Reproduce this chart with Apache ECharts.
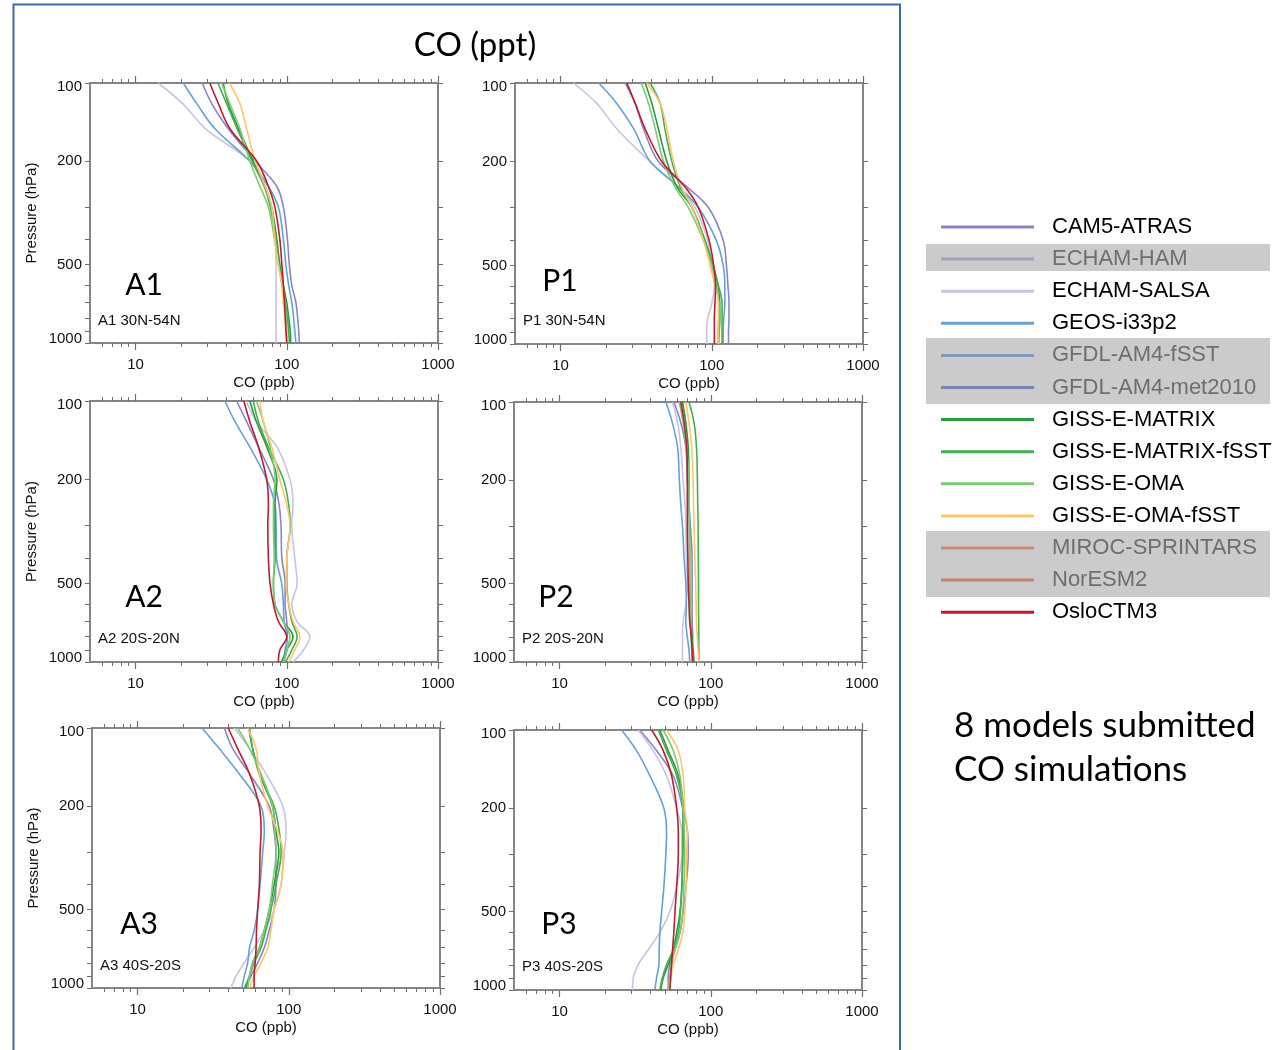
<!DOCTYPE html>
<html>
<head>
<meta charset="utf-8">
<script src="https://cdn.jsdelivr.net/npm/echarts@6/dist/echarts.min.js"></script>
<style>
  html, body { margin: 0; padding: 0; background: #ffffff; }
  #chart { width: 1281px; height: 1050px; }
</style>
</head>
<body>
<div id="chart"></div>
<script>
// Pressure levels (hPa) of every profile
const levels = [100, 120, 150, 200, 250, 300, 400, 500, 600, 700, 800, 900, 1000];

// Tick values
const xMajorTicks = [10, 100, 1000];
const xMinorTicks = [6, 7, 8, 9, 20, 30, 40, 50, 60, 70, 80, 90, 200, 300, 400, 500, 600, 700, 800, 900];
const yTicks = [100, 200, 300, 400, 500, 600, 700, 800, 900, 1000];
const yLabels = [100, 200, 500, 1000];

// Models in the legend; the ones in grey boxes submitted no CO
const models = ['CAM5-ATRAS', 'ECHAM-HAM', 'ECHAM-SALSA', 'GEOS-i33p2', 'GFDL-AM4-fSST', 'GFDL-AM4-met2010',
  'GISS-E-MATRIX', 'GISS-E-MATRIX-fSST', 'GISS-E-OMA', 'GISS-E-OMA-fSST', 'MIROC-SPRINTARS', 'NorESM2', 'OsloCTM3'];
const missingModels = ['ECHAM-HAM', 'GFDL-AM4-fSST', 'GFDL-AM4-met2010', 'MIROC-SPRINTARS', 'NorESM2'];

// CO (ppb) profiles, one value per pressure level
// A1 30N-54N
const A1_cam5 = [27.6, 31.9, 41, 62, 86, 95, 101, 104, 108, 115, 118, 120, 121];
const A1_salsa = [14.1, 20.5, 29, 57, 72, 78, 84, 85, 85, 85, 85, 85, 85];
const A1_geos = [20.7, 25.4, 33.5, 57, 75.6, 88, 95, 98.6, 103, 108, 111, 113, 115];
const A1_matrix = [38, 41, 48, 60, 72, 79.5, 86, 90, 95, 100, 103, 105.5, 106];
const A1_matrixF = [35, 40, 47, 59, 71, 78, 85, 89, 94, 98, 101, 103, 104];
const A1_oma = [37, 42, 49, 57, 66.5, 75.6, 83, 88, 93, 97, 99, 100, 100];
const A1_omaF = [41.7, 49, 54.3, 62, 72, 79.5, 83.5, 88, 93, 95, 97.7, 99, 100];
const A1_oslo = [31, 35.3, 42.1, 63.4, 75.6, 83.5, 90, 92.8, 95, 96.6, 97.7, 98.8, 100];

// P1 30N-54N
const P1_cam5 = [26.8, 31.2, 35.4, 44.4, 68.5, 95, 119, 125, 128, 130, 130, 129, 129];
const P1_salsa = [12.2, 17.4, 23.6, 39, 60, 77.5, 94, 100, 104, 100, 94, 92.5, 92.5];
const P1_geos = [17.9, 23.6, 30.5, 39.2, 60, 81.5, 107, 119, 122, 122, 120, 119, 119];
const P1_matrix = [36.3, 40.2, 44.4, 50.5, 58.8, 74, 90, 102, 110, 113, 113, 112, 111];
const P1_matrixF = [39.2, 45.6, 49, 54.5, 62, 74, 90, 102, 111, 117, 117, 117, 117];
const P1_oma = [34.2, 38.2, 42.3, 48, 57, 70, 88, 100, 108, 111, 111, 110, 110];
const P1_omaF = [37.2, 45.6, 50.6, 55.8, 63, 74, 88, 97.5, 105, 111, 111, 111, 111];
const P1_oslo = [27.5, 31.2, 36.3, 46.7, 66.5, 81.5, 96, 103, 106, 105, 104, 104, 104];

// A2 20S-20N
const A2_cam5 = [46.6, 54.3, 65, 81.6, 89, 91.6, 92.8, 97.5, 97.5, 100, 101, 97.5, 95];
const A2_salsa = [54, 63, 86, 105, 110, 108, 113, 117, 108, 117, 142, 129, 110];
const A2_geos = [39, 45.5, 57, 73.7, 83.6, 85, 85.6, 92.5, 95, 96, 100, 100, 95];
const A2_matrix = [57, 63, 73.7, 86, 83.6, 83.6, 83.6, 81.6, 83.6, 95, 110, 100, 92];
const A2_matrixF = [60, 65, 75.6, 95, 103, 105.5, 100, 100, 103, 108, 117, 108, 98];
const A2_oma = [63, 70, 77.5, 83.6, 81.6, 81.6, 82.6, 81.6, 83.6, 95, 105, 100, 95];
const A2_omaF = [66.5, 70, 79.5, 90, 100, 105, 100, 99, 103, 110, 122, 113, 103];
const A2_oslo = [52, 57, 65, 73.7, 75.6, 74.9, 75.6, 77.5, 81.6, 88, 100, 90, 88];

// P2 20S-20N
const P2_cam5 = [57, 63.4, 68.4, 70, 71.8, 73.3, 75.3, 75.3, 75.3, 75.3, 76, 75.3, 75.3];
const P2_salsa = [55.7, 60.4, 63.4, 65.6, 67.7, 68.4, 69, 70, 68.4, 65.6, 65, 65, 65];
const P2_geos = [50.5, 55.7, 60.4, 62, 63.4, 65, 66.7, 68.4, 69, 68.4, 70, 71.8, 72.6];
const P2_matrix = [65, 68.4, 71, 71.8, 72, 72.3, 72.6, 72.6, 73, 73.5, 75, 76.5, 77.5];
const P2_matrixF = [71.8, 77.5, 80.5, 81.6, 82, 82.5, 82.7, 83, 83, 83.2, 83.3, 83.4, 83.5];
const P2_oma = [62, 65.6, 69, 71.8, 72, 72.3, 72.5, 72.8, 73, 73.5, 74, 74.8, 75.3];
const P2_omaF = [68.4, 71.8, 74.8, 76.4, 77, 77.5, 78.5, 79.5, 80, 80.5, 81.5, 82.5, 83.5];
const P2_oslo = [63.4, 66.7, 69.4, 70, 70, 70, 70.6, 71, 71.8, 72.6, 74.4, 75.3, 76];

// A3 40S-20S
const A3_cam5 = [37.5, 42.6, 55, 74.3, 80, 82.3, 82.3, 80, 74.3, 68.9, 62.3, 56.3, 52];
const A3_salsa = [43.7, 55, 70.7, 91.3, 96, 93.6, 89, 80, 68.9, 59, 50.8, 44.8, 41.5];
const A3_geos = [26.7, 34.7, 47, 65.6, 68.9, 67.3, 64.6, 62.3, 59.1, 55, 53.5, 50.8, 49];
const A3_matrix = [55, 57.7, 63.9, 78, 82.3, 86, 80, 74.3, 68.9, 63.9, 57.7, 55, 52];
const A3_matrixF = [54.4, 57.7, 63.9, 80, 86.6, 89, 82.3, 76.3, 70.7, 65.6, 59, 55, 50.8];
const A3_oma = [45.9, 55, 65.6, 78, 81, 82.3, 78, 74.3, 68.9, 63.9, 57.7, 55, 53.5];
const A3_omaF = [53.5, 60.8, 63.9, 72.6, 84.5, 91.3, 89, 80, 76.3, 72.6, 65.6, 59, 55];
const A3_oslo = [39.8, 45.9, 55, 63.9, 65.6, 64.6, 63.9, 62.3, 61.2, 60.8, 60, 59, 59];

// P3 40S-20S
const P3_cam5 = [33.9, 43.8, 56.5, 65.3, 70.4, 71, 68.6, 65.7, 62.6, 58, 53.6, 52.3, 52.3];
const P3_salsa = [33.1, 41.6, 51, 59.5, 64.4, 64.4, 59.5, 53.6, 46.1, 38.6, 33.1, 30.7, 30.4];
const P3_geos = [25.7, 32.3, 39.6, 49, 51, 50.5, 49, 47.3, 46.1, 45.6, 45.4, 43.8, 42.7];
const P3_matrix = [46.1, 52.3, 61, 65.7, 65.7, 65.3, 64.4, 62.6, 59.5, 56.5, 52.3, 48.5, 46.7];
const P3_matrixF = [45, 51, 59.5, 65.3, 65.5, 65.3, 64.4, 63, 61, 56.5, 51, 47.8, 46.1];
const P3_oma = [48.5, 56.5, 62.6, 65.7, 67, 67.4, 66.4, 65.3, 62.6, 58, 55, 53.2, 52.3];
const P3_omaF = [51, 61, 65.7, 67.4, 70, 69.3, 68.6, 67.4, 65.3, 61, 56.5, 54.3, 53.2];
const P3_oslo = [40.7, 48.5, 55.1, 59.5, 61, 61, 59.5, 58, 57, 55.9, 55, 54.3, 53.6];

// Panels: letter, region text, and the profiles per model
const panelNames = ['A1', 'P1', 'A2', 'P2', 'A3', 'P3'];
const panelRegions = ['A1 30N-54N', 'P1 30N-54N', 'A2 20S-20N', 'P2 20S-20N', 'A3 40S-20S', 'P3 40S-20S'];
const panelProfiles = [
  { 'CAM5-ATRAS': A1_cam5, 'ECHAM-SALSA': A1_salsa, 'GEOS-i33p2': A1_geos, 'GISS-E-MATRIX': A1_matrix, 'GISS-E-MATRIX-fSST': A1_matrixF, 'GISS-E-OMA': A1_oma, 'GISS-E-OMA-fSST': A1_omaF, 'OsloCTM3': A1_oslo },
  { 'CAM5-ATRAS': P1_cam5, 'ECHAM-SALSA': P1_salsa, 'GEOS-i33p2': P1_geos, 'GISS-E-MATRIX': P1_matrix, 'GISS-E-MATRIX-fSST': P1_matrixF, 'GISS-E-OMA': P1_oma, 'GISS-E-OMA-fSST': P1_omaF, 'OsloCTM3': P1_oslo },
  { 'CAM5-ATRAS': A2_cam5, 'ECHAM-SALSA': A2_salsa, 'GEOS-i33p2': A2_geos, 'GISS-E-MATRIX': A2_matrix, 'GISS-E-MATRIX-fSST': A2_matrixF, 'GISS-E-OMA': A2_oma, 'GISS-E-OMA-fSST': A2_omaF, 'OsloCTM3': A2_oslo },
  { 'CAM5-ATRAS': P2_cam5, 'ECHAM-SALSA': P2_salsa, 'GEOS-i33p2': P2_geos, 'GISS-E-MATRIX': P2_matrix, 'GISS-E-MATRIX-fSST': P2_matrixF, 'GISS-E-OMA': P2_oma, 'GISS-E-OMA-fSST': P2_omaF, 'OsloCTM3': P2_oslo },
  { 'CAM5-ATRAS': A3_cam5, 'ECHAM-SALSA': A3_salsa, 'GEOS-i33p2': A3_geos, 'GISS-E-MATRIX': A3_matrix, 'GISS-E-MATRIX-fSST': A3_matrixF, 'GISS-E-OMA': A3_oma, 'GISS-E-OMA-fSST': A3_omaF, 'OsloCTM3': A3_oslo },
  { 'CAM5-ATRAS': P3_cam5, 'ECHAM-SALSA': P3_salsa, 'GEOS-i33p2': P3_geos, 'GISS-E-MATRIX': P3_matrix, 'GISS-E-MATRIX-fSST': P3_matrixF, 'GISS-E-OMA': P3_oma, 'GISS-E-OMA-fSST': P3_omaF, 'OsloCTM3': P3_oslo }
];

// ---- styling and layout ----
const modelColors = {
  'CAM5-ATRAS': '#8b84c4', 'ECHAM-HAM': '#a3a2bb', 'ECHAM-SALSA': '#c6c4e2', 'GEOS-i33p2': '#64a2d6',
  'GFDL-AM4-fSST': '#8499bb', 'GFDL-AM4-met2010': '#7a86b0', 'GISS-E-MATRIX': '#2a9b3c',
  'GISS-E-MATRIX-fSST': '#47ad52', 'GISS-E-OMA': '#7dcb73', 'GISS-E-OMA-fSST': '#fcc66b',
  'MIROC-SPRINTARS': '#ca8e70', 'NorESM2': '#c58474', 'OsloCTM3': '#c01b2f'
};
const gridBoxes = [
  { left: 90, top: 83, width: 348, height: 260 },
  { left: 515, top: 83, width: 348, height: 261 },
  { left: 90, top: 401, width: 348, height: 261 },
  { left: 514, top: 402, width: 348, height: 260 },
  { left: 92, top: 728, width: 348, height: 260 },
  { left: 514, top: 730, width: 348, height: 260 }
];
const letterPos = [[144, 285], [560, 281], [144, 597], [556, 597], [139, 924], [559, 924]];
const regionPos = [[98, 321], [523, 321], [98, 639], [522, 639], [100, 966], [522, 967]];

const AXIS_COLOR = '#858585';
const TICK_COLOR = '#6e6e6e';
const SANS = '"Liberation Sans", Arial, sans-serif';
const HUMAN = 'Lato, "Open Sans", sans-serif';
const intLabel = v => String(Math.round(v));
// pressure labels: the end labels are nudged inside the frame
const pressureLabel = v => {
  const r = Math.round(v);
  if (r === 100) return '{first|' + r + '}';
  if (r === 1000) return '{last|' + r + '}';
  return String(r);
};
const pressureRich = {
  first: { padding: [8, 0, 0, 0], fontFamily: SANS, fontSize: 15, color: '#111' },
  last: { padding: [0, 0, 9, 0], fontFamily: SANS, fontSize: 15, color: '#111' }
};

const grids = [], xAxes = [], yAxes = [], series = [], graphics = [];

gridBoxes.forEach((b, i) => {
  grids.push(Object.assign({ containLabel: false, outerBoundsMode: 'none' }, b));
  const xBase = { type: 'log', logBase: 10, gridIndex: i, min: 5, max: 1000, splitLine: { show: false }, silent: true };
  const lineOn = { show: true, onZero: false, lineStyle: { color: AXIS_COLOR, width: 2 } };
  // bottom axis: spine, major ticks and labels
  xAxes.push(Object.assign({}, xBase, {
    position: 'bottom', axisLine: lineOn,
    axisTick: { show: true, inside: false, length: 7, customValues: xMajorTicks, lineStyle: { color: TICK_COLOR, width: 1.2 } },
    axisLabel: { show: true, customValues: xMajorTicks, formatter: intLabel, margin: 14, color: '#111', fontFamily: SANS, fontSize: 15 },
    name: 'CO (ppb)', nameLocation: 'middle', nameGap: 32,
    nameTextStyle: { color: '#111', fontFamily: SANS, fontSize: 15 }
  }));
  // bottom minor ticks
  xAxes.push(Object.assign({}, xBase, {
    position: 'bottom', axisLine: { show: false, onZero: false },
    axisTick: { show: true, inside: false, length: 4, customValues: xMinorTicks, lineStyle: { color: TICK_COLOR, width: 1 } },
    axisLabel: { show: false }
  }));
  // top spine with major ticks
  xAxes.push(Object.assign({}, xBase, {
    position: 'top', axisLine: lineOn,
    axisTick: { show: true, inside: false, length: 7, customValues: xMajorTicks, lineStyle: { color: TICK_COLOR, width: 1.2 } },
    axisLabel: { show: false }
  }));
  // top minor ticks
  xAxes.push(Object.assign({}, xBase, {
    position: 'top', axisLine: { show: false, onZero: false },
    axisTick: { show: true, inside: false, length: 4, customValues: xMinorTicks, lineStyle: { color: TICK_COLOR, width: 1 } },
    axisLabel: { show: false }
  }));

  const yBase = { type: 'log', logBase: 10, gridIndex: i, min: 100, max: 1000, inverse: true, splitLine: { show: false }, silent: true };
  const leftAxis = Object.assign({}, yBase, {
    position: 'left', axisLine: lineOn,
    axisTick: { show: true, inside: false, length: 5, customValues: yTicks, lineStyle: { color: TICK_COLOR, width: 1 } },
    axisLabel: {
      show: true, customValues: yLabels, formatter: pressureLabel, rich: pressureRich,
      margin: 8, color: '#111', fontFamily: SANS, fontSize: 15
    }
  });
  if (i % 2 === 0) {
    Object.assign(leftAxis, {
      name: 'Pressure (hPa)', nameLocation: 'middle', nameGap: 51, nameRotate: 90,
      nameTextStyle: { color: '#111', fontFamily: SANS, fontSize: 15 }
    });
  }
  yAxes.push(leftAxis);
  yAxes.push(Object.assign({}, yBase, {
    position: 'right', axisLine: lineOn,
    axisTick: { show: true, inside: false, length: 5, customValues: yTicks, lineStyle: { color: TICK_COLOR, width: 1 } },
    axisLabel: { show: false }
  }));

  // profiles of this panel
  const profiles = panelProfiles[i];
  models.forEach(name => {
    const vals = profiles[name];
    if (!vals) return;
    series.push({
      type: 'line', name: name, xAxisIndex: 4 * i, yAxisIndex: 2 * i,
      data: levels.map((p, k) => [vals[k], p]),
      smooth: 0.35, symbol: 'none', showSymbol: false, clip: true,
      lineStyle: { color: modelColors[name], width: 1.6 },
      itemStyle: { color: modelColors[name] },
      emphasis: { disabled: true }, animation: false
    });
  });

  // panel letter and region text
  graphics.push({
    type: 'text', x: letterPos[i][0], y: letterPos[i][1], silent: true,
    style: { text: panelNames[i], font: '30px ' + HUMAN, fill: '#000', align: 'center', verticalAlign: 'middle' }
  });
  graphics.push({
    type: 'text', x: regionPos[i][0], y: regionPos[i][1], silent: true,
    style: { text: panelRegions[i], font: '15px ' + SANS, fill: '#111', align: 'left', verticalAlign: 'middle' }
  });
});

// legend entries for models without CO output
missingModels.forEach(name => {
  series.push({
    type: 'line', name: name, xAxisIndex: 0, yAxisIndex: 0, data: [],
    symbol: 'none', lineStyle: { color: modelColors[name], width: 1.6 }, itemStyle: { color: modelColors[name] }
  });
});

// outer frame of the panel block
graphics.push({
  type: 'rect', silent: true, z: 0,
  shape: { x: 13.5, y: 4.5, width: 886.5, height: 1100 },
  style: { fill: 'none', stroke: '#3f6aa2', lineWidth: 2 }
});
// grey boxes behind legend rows of missing models
[[244, 27], [338, 66], [531, 66]].forEach(([y, h]) => {
  graphics.push({
    type: 'rect', silent: true, z: -1,
    shape: { x: 926, y: y, width: 344, height: h },
    style: { fill: '#cbcbcb' }
  });
});
// heading and note
graphics.push({
  type: 'text', x: 475, y: 45, silent: true,
  style: { text: 'CO (ppt)', font: '33px ' + HUMAN, fill: '#000', align: 'center', verticalAlign: 'middle' }
});
graphics.push({
  type: 'text', x: 954, y: 726, silent: true,
  style: { text: '8 models submitted', font: '35px ' + HUMAN, fill: '#000', align: 'left', verticalAlign: 'middle' }
});
graphics.push({
  type: 'text', x: 954, y: 770, silent: true,
  style: { text: 'CO simulations', font: '35px ' + HUMAN, fill: '#000', align: 'left', verticalAlign: 'middle' }
});

const chart = echarts.init(document.getElementById('chart'), null, { renderer: 'canvas' });
chart.setOption({
  backgroundColor: '#ffffff',
  animation: false,
  grid: grids,
  xAxis: xAxes,
  yAxis: yAxes,
  legend: {
    orient: 'vertical', left: 941, top: 216, padding: 0,
    itemWidth: 93, itemHeight: 22, itemGap: 10.1,
    icon: 'path://M0,0H93V3H0Z',
    selectedMode: false,
    itemStyle: { borderWidth: 0 },
    textStyle: { fontFamily: SANS, fontSize: 22, color: '#000', lineHeight: 22, padding: [0, 0, 0, 13] },
    data: models.map(name => missingModels.indexOf(name) >= 0
      ? { name: name, textStyle: { color: '#6e6e6e' } }
      : { name: name })
  },
  graphic: { elements: graphics },
  series: series
});
</script>
</body>
</html>
